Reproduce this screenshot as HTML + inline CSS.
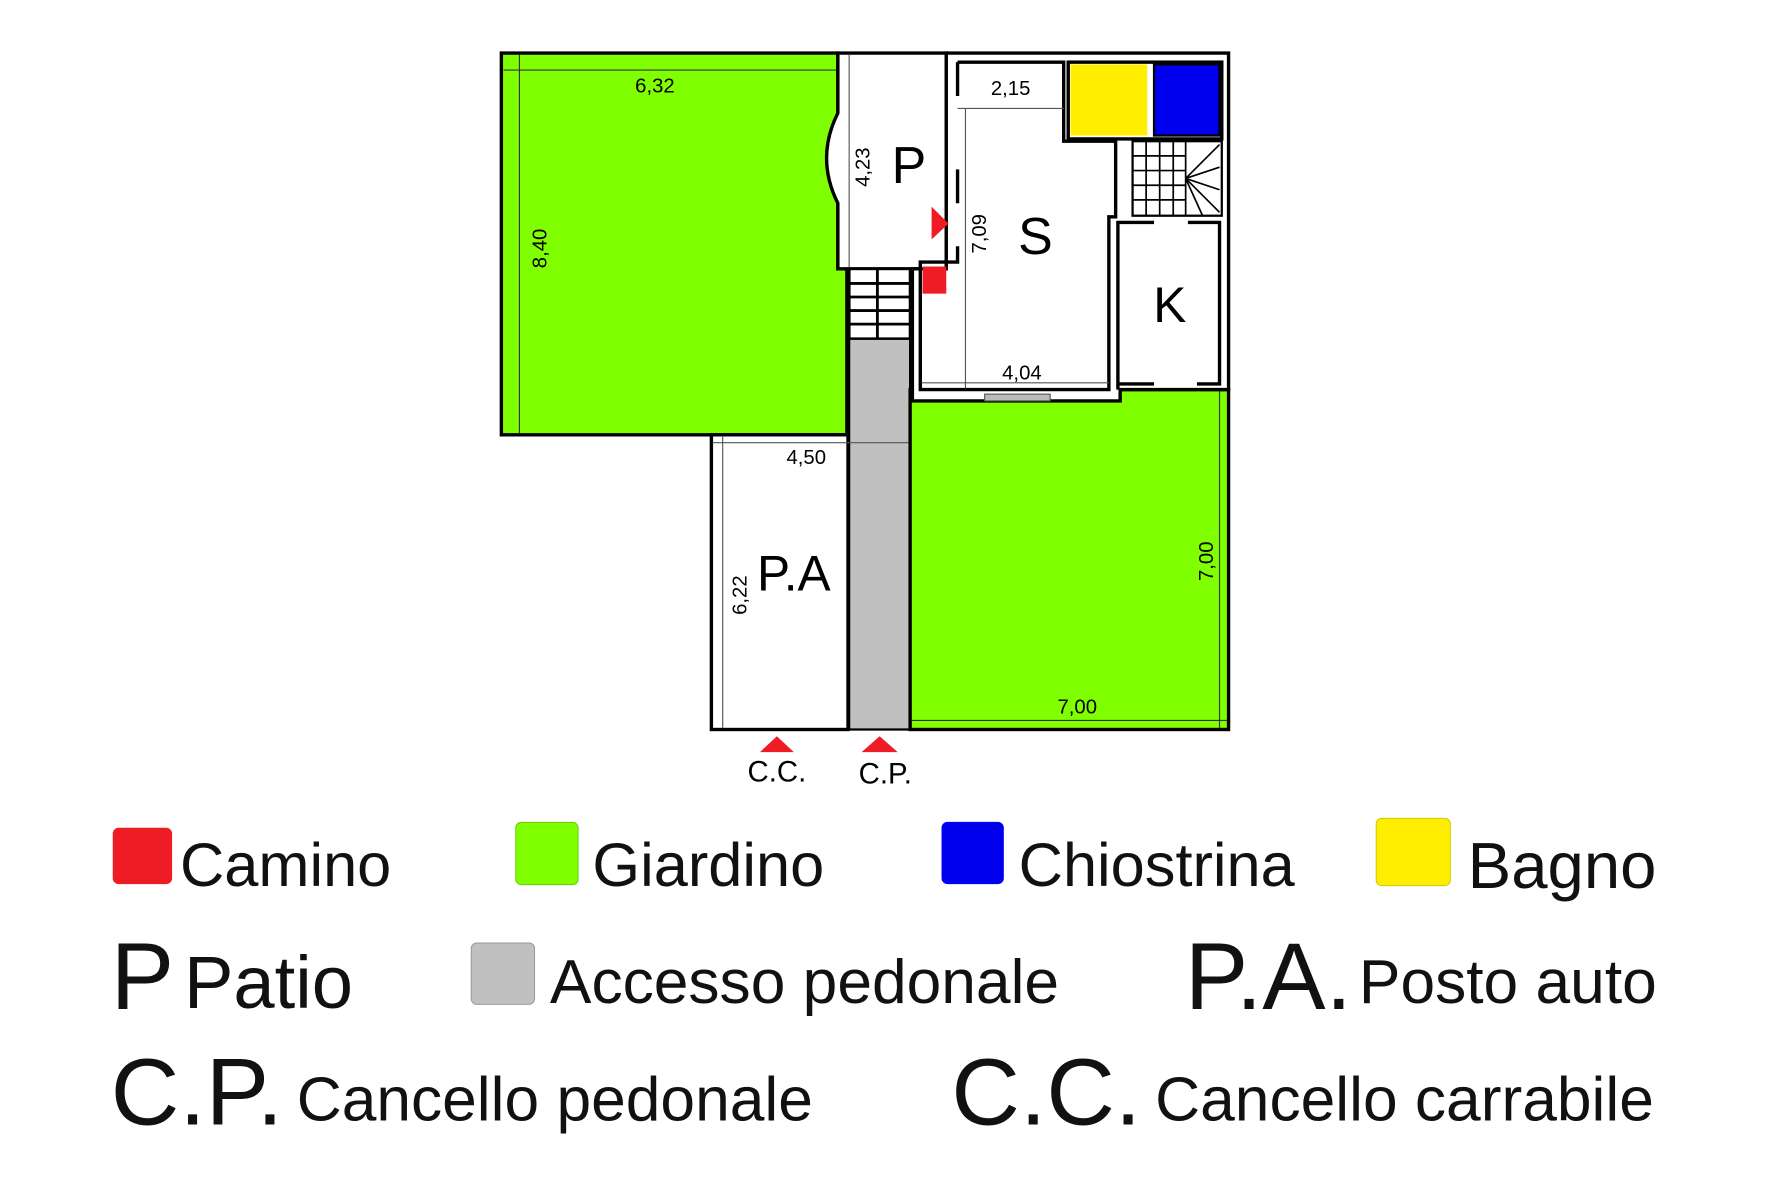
<!DOCTYPE html>
<html><head><meta charset="utf-8"><style>
html,body{margin:0;padding:0;background:#fff;}
body{width:1772px;height:1181px;overflow:hidden;position:relative;font-family:"Liberation Sans",sans-serif;}
#wrap{position:absolute;left:0;top:0;width:1772px;height:1181px;transform:scale(0.989);transform-origin:0 0;}
svg{position:absolute;left:0;top:0;}
.t{position:absolute;white-space:nowrap;color:#111;line-height:1;}
.sq{position:absolute;border-radius:6px;}
</style></head><body><div id="wrap">
<svg width="1772" height="1181" viewBox="0 0 1552 1034.3" font-family="Liberation Sans, sans-serif">
<path d="M444,47 L742,47 L742,238 L750,238 L750,385 L444,385 Z" fill="#80ff00" stroke="#000" stroke-width="3"/>
<line x1="446" y1="62" x2="742" y2="62" stroke="#333" stroke-width="1"/>
<line x1="460" y1="48" x2="460" y2="384" stroke="#333" stroke-width="1"/>
<text x="580" y="82" font-size="18" text-anchor="middle">6,32</text>
<text transform="translate(484,220) rotate(-90)" font-size="18" text-anchor="middle">8,40</text>
<path d="M742,47 L838,47 L838,238 L742,238 L742,180 Q722,140 742,100 Z" fill="#fff" stroke="#000" stroke-width="3"/>
<line x1="752" y1="48" x2="752" y2="238" stroke="#555" stroke-width="1"/>
<text transform="translate(770,148) rotate(-90)" font-size="18" text-anchor="middle">4,23</text>
<text x="805" y="162" font-size="46" text-anchor="middle">P</text>
<rect x="752" y="238" width="54" height="62" fill="#fff" stroke="#000" stroke-width="2.5"/>
<g stroke="#000" stroke-width="2.5"><line x1="752" y1="251" x2="806" y2="251"/><line x1="752" y1="263" x2="806" y2="263"/><line x1="752" y1="275" x2="806" y2="275"/><line x1="752" y1="287" x2="806" y2="287"/><line x1="777" y1="238" x2="777" y2="300"/></g>
<rect x="752" y="300" width="54" height="346" fill="#c0c0c0" stroke="#000" stroke-width="2"/>
<rect x="630" y="385" width="121" height="261" fill="#fff" stroke="#000" stroke-width="3"/>
<line x1="640" y1="386" x2="640" y2="645" stroke="#555" stroke-width="1"/>
<line x1="631" y1="392" x2="806" y2="392" stroke="#555" stroke-width="1"/>
<text x="714" y="411" font-size="18" text-anchor="middle">4,50</text>
<text x="703" y="523" font-size="44" text-anchor="middle">P.A</text>
<text transform="translate(661,527) rotate(-90)" font-size="18" text-anchor="middle">6,22</text>
<rect x="806" y="345" width="282" height="301" fill="#80ff00" stroke="#000" stroke-width="3"/>
<line x1="1080" y1="346" x2="1080" y2="645" stroke="#333" stroke-width="1"/>
<line x1="807" y1="638" x2="1087" y2="638" stroke="#333" stroke-width="1"/>
<text x="954" y="632" font-size="18" text-anchor="middle">7,00</text>
<text transform="translate(1074,497) rotate(-90)" font-size="18" text-anchor="middle">7,00</text>
<path d="M838,47 L1088,47 L1088,345 L992,345 L992,355 L808,355 L808,238 L838,238 Z" fill="#fff" stroke="#000" stroke-width="3"/>
<path d="M848,55 L942,55 L942,125 L988,125 L988,192 L982,192 L982,345 L815,345 L815,232 L848,232 L848,218" fill="none" stroke="#000" stroke-width="3"/>
<path d="M848,55 L848,85 M848,150 L848,180 M838,150 L838,180" fill="none" stroke="#000" stroke-width="3"/>
<line x1="855" y1="96" x2="855" y2="344" stroke="#555" stroke-width="1"/>
<line x1="848" y1="96" x2="942" y2="96" stroke="#555" stroke-width="1"/>
<line x1="816" y1="339" x2="982" y2="339" stroke="#555" stroke-width="1"/>
<rect x="872" y="349" width="58" height="6" fill="#bbb" stroke="#555" stroke-width="1"/>
<rect x="946" y="55" width="136" height="68" fill="#fff" stroke="#000" stroke-width="3"/>
<rect x="948" y="57" width="68" height="63" fill="#ffee00"/>
<rect x="1022" y="57" width="58" height="63" fill="#0000ee" stroke="#000" stroke-width="2"/>
<rect x="1003" y="125" width="79" height="66" fill="#fff" stroke="#000" stroke-width="2"/>
<g stroke="#000" stroke-width="1.5">
<line x1="1003" y1="138" x2="1050" y2="138"/><line x1="1003" y1="151" x2="1050" y2="151"/><line x1="1003" y1="164" x2="1050" y2="164"/><line x1="1003" y1="177" x2="1050" y2="177"/>
<line x1="1015" y1="125" x2="1015" y2="191"/><line x1="1027" y1="125" x2="1027" y2="191"/><line x1="1039" y1="125" x2="1039" y2="191"/><line x1="1050" y1="125" x2="1050" y2="191"/>
<line x1="1050" y1="158" x2="1080" y2="128"/><line x1="1050" y1="158" x2="1080" y2="148"/><line x1="1050" y1="158" x2="1080" y2="168"/><line x1="1050" y1="158" x2="1080" y2="188"/><line x1="1050" y1="158" x2="1065" y2="191"/>
</g>
<path d="M990,345 L990,197 L1022,197 M1052,197 L1080,197 L1080,340 L1060,340 M1022,340 L990,340" fill="none" stroke="#000" stroke-width="3"/>
<text x="1036" y="285" font-size="44" text-anchor="middle">K</text>
<text x="917" y="225" font-size="46" text-anchor="middle">S</text>
<text transform="translate(873,207) rotate(-90)" font-size="18" text-anchor="middle">7,09</text>
<text x="895" y="84" font-size="18" text-anchor="middle">2,15</text>
<text x="905" y="336" font-size="18" text-anchor="middle">4,04</text>
<polygon points="825,183 840,198 825,212" fill="#ee1c24"/>
<rect x="817" y="236" width="21" height="24" fill="#ee1c24"/>
<polygon points="688,652 673,666 703,666" fill="#ee1c24"/>
<polygon points="779,652 763,666 795,666" fill="#ee1c24"/>
<text x="688" y="692" font-size="26" text-anchor="middle">C.C.</text>
<text x="784" y="694" font-size="26" text-anchor="middle">C.P.</text>
</svg>
<div class="sq" style="left:114px;top:837px;width:60px;height:57px;background:#ee1c24"></div>
<div class="t" style="left:182px;top:845px;font-size:62px">Camino</div>
<div class="sq" style="left:521px;top:831px;width:62px;height:62px;background:#80ff00;border:1px solid #6c0"></div>
<div class="t" style="left:599px;top:845px;font-size:62px">Giardino</div>
<div class="sq" style="left:952px;top:831px;width:63px;height:63px;background:#0000ee"></div>
<div class="t" style="left:1030px;top:845px;font-size:62px">Chiostrina</div>
<div class="sq" style="left:1391px;top:827px;width:74px;height:67px;background:#ffee00;border:1px solid #cc0"></div>
<div class="t" style="left:1484px;top:842px;font-size:66px">Bagno</div>
<div class="t" style="left:112px;top:940px;font-size:96px">P</div>
<div class="t" style="left:186px;top:956px;font-size:75px">Patio</div>
<div class="sq" style="left:476px;top:953px;width:63px;height:61px;background:#c0c0c0;border:1px solid #999"></div>
<div class="t" style="left:556px;top:962px;font-size:63px">Accesso pedonale</div>
<div class="t" style="left:1198px;top:940px;font-size:96px">P.A.</div>
<div class="t" style="left:1374px;top:962px;font-size:63px">Posto auto</div>
<div class="t" style="left:112px;top:1057px;font-size:96px">C.P.</div>
<div class="t" style="left:300px;top:1081px;font-size:63px">Cancello pedonale</div>
<div class="t" style="left:962px;top:1057px;font-size:96px">C.C.</div>
<div class="t" style="left:1168px;top:1081px;font-size:63px">Cancello carrabile</div>
</div></body></html>
